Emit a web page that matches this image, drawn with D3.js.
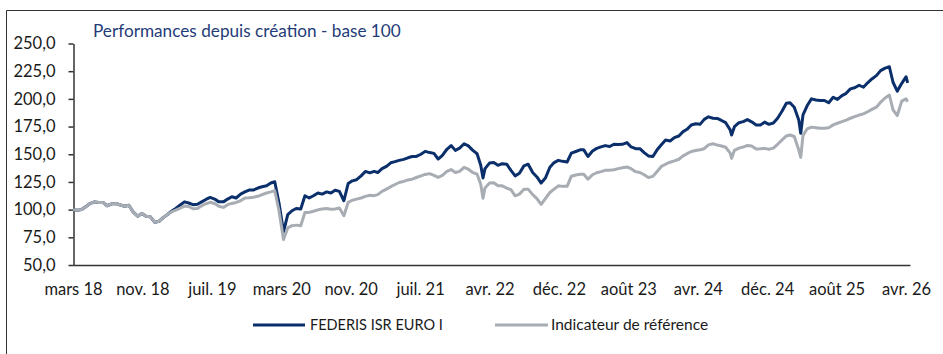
<!DOCTYPE html>
<html>
<head>
<meta charset="utf-8">
<script src="https://cdn.jsdelivr.net/npm/d3@7"></script>
<style>
  body { margin: 0; background: #ffffff; }
  svg { display: block; }
  text { font-family: Lato, "Open Sans", sans-serif; }
</style>
</head>
<body>
<svg id="chart" width="943" height="354"></svg>
<script>
// Observation dates (half-monthly, plus a few dates of sharp moves)
const dates = [
  "2018-03-17","2018-04-01","2018-04-16","2018-05-01","2018-05-16","2018-06-01","2018-06-16","2018-07-01","2018-07-16","2018-08-01","2018-08-16","2018-09-01","2018-09-16","2018-10-01","2018-10-16","2018-11-01","2018-11-16","2018-12-01","2018-12-16",
  "2019-01-01","2019-01-16","2019-02-01","2019-02-16","2019-03-01","2019-03-16","2019-04-01","2019-04-16","2019-05-01","2019-05-16","2019-06-01","2019-06-16","2019-07-01","2019-07-16","2019-08-01","2019-08-16","2019-09-01","2019-09-16","2019-10-01","2019-10-16","2019-11-01","2019-11-16","2019-12-01","2019-12-16",
  "2020-01-01","2020-01-16","2020-02-01","2020-02-16","2020-03-01","2020-03-16","2020-04-01","2020-04-16","2020-05-01","2020-05-16","2020-06-01","2020-06-16","2020-07-01","2020-07-16","2020-08-01","2020-08-16","2020-09-01","2020-09-16","2020-10-01","2020-10-16","2020-11-01","2020-11-16","2020-12-01","2020-12-16",
  "2021-01-01","2021-01-16","2021-02-01","2021-02-16","2021-03-01","2021-03-16","2021-04-01","2021-04-16","2021-05-01","2021-05-16","2021-06-01","2021-06-16","2021-07-01","2021-07-16","2021-08-01","2021-08-16","2021-09-01","2021-09-16","2021-10-01","2021-10-16","2021-11-01","2021-11-16","2021-12-01","2021-12-16",
  "2022-01-01","2022-01-16","2022-02-01","2022-02-16","2022-03-01","2022-03-09","2022-03-16","2022-04-01","2022-04-16","2022-05-01","2022-05-16","2022-06-01","2022-06-16","2022-07-01","2022-07-16","2022-08-01","2022-08-16","2022-09-01","2022-09-16","2022-10-01","2022-10-16","2022-11-01","2022-11-16","2022-12-01","2022-12-16",
  "2023-01-01","2023-01-16","2023-02-01","2023-02-16","2023-03-01","2023-03-16","2023-04-01","2023-04-16","2023-05-01","2023-05-16","2023-06-01","2023-06-16","2023-07-01","2023-07-16","2023-08-01","2023-08-16","2023-09-01","2023-09-16","2023-10-01","2023-10-16","2023-11-01","2023-11-16","2023-12-01","2023-12-16",
  "2024-01-01","2024-01-16","2024-02-01","2024-02-16","2024-03-01","2024-03-16","2024-04-01","2024-04-16","2024-05-01","2024-05-16","2024-06-01","2024-06-16","2024-07-01","2024-07-16","2024-08-01","2024-08-06","2024-08-16","2024-09-01","2024-09-16","2024-10-01","2024-10-16","2024-11-01","2024-11-16","2024-12-01","2024-12-16",
  "2025-01-01","2025-01-16","2025-02-01","2025-02-16","2025-03-01","2025-03-16","2025-04-01","2025-04-08","2025-04-16","2025-05-01","2025-05-16","2025-06-01","2025-06-16","2025-07-01","2025-07-16","2025-08-01","2025-08-16","2025-09-01","2025-09-16","2025-10-01","2025-10-16","2025-11-01","2025-11-16","2025-12-01","2025-12-16",
  "2026-01-01","2026-01-16","2026-02-01","2026-02-16","2026-03-01","2026-03-16","2026-04-01","2026-04-16","2026-04-22"
];

// FEDERIS ISR EURO I, base 100
const fundValues = [
  100,99.5,100,102.5,105.5,107,106.5,106.5,103.5,105.2,105.5,104.2,103,104,98,94,96.5,94,93.5,
  88.5,89.5,93,95.8,98.5,101,104.2,107,106,104.5,104.8,107,109.2,111,109.5,107,107,109.5,111.6,110.5,114,116,117.7,117.7,
  119.5,120.7,121.5,124,125.2,106,80,95.5,99,101,100.5,112.5,110.5,112.5,115,114,116,115,117.5,116.5,108,123.5,126,127,
  130.5,134.5,133.2,134.5,133.5,137,139.1,142.3,143.3,144.5,145.4,146.8,148,148,150,152.6,151.5,150.8,145.7,149,154.5,157.8,153.5,155.5,
  159.5,157.5,153.5,150.5,140,128.6,137,142,142.5,140,141.5,141,135.5,130.5,132.8,139.5,141,133.5,129.5,124,128.5,138.3,142.5,144.5,143.6,
  143,151,152.5,154,154,148,153,155.3,156.6,157.8,157,159,158.8,159,160.5,156.6,155,155,151.5,148.5,148,154,158.5,162.8,
  162,165,166.5,170.4,172.5,176.4,177.5,177,181.5,183.8,182.5,182.3,180.5,178.5,172,167.4,174.9,178.5,179.5,181.3,179.3,176.5,176.5,179,177,
  178.2,182.5,189,196,196.5,192.5,181,169,185.5,194,200,199,198.5,198.5,196.5,201.5,199.5,203,205,209,210,212.3,210.5,214.5,218,
  221,225.5,227.8,229,215,207,214,220,214.5
];

// Indicateur de référence, base 100
const benchValues = [
  100,99.5,100,102.5,105.5,107,106.5,106.5,103.5,105.2,105.5,104.2,103,104,98,94,96.5,94,93.5,
  88.5,89.5,93,95.8,98,99.5,101.3,103.2,102.8,100.8,101,103.5,105.3,106.6,105.5,103,102,104.5,105.6,106.5,108,110.5,110.8,111.2,
  112,113.5,115,116,117.1,99,73,83.5,85.5,86,85.5,97.5,97.5,98.5,99.8,100.5,101,100.3,100.5,101.5,94.5,106.5,108.5,109.5,
  110.5,112,113,112.6,113.5,116.5,118.5,120.7,122.7,124.5,125.5,126.8,127.5,129,130.5,131.8,132.5,131,129.2,131,134.5,136.2,133.5,134.5,
  138.2,136.5,133.5,132,123,110.2,119.5,124,124.3,121.5,121.5,119.5,118,112.5,114,118.5,118.5,113.5,110,104.8,110,115.5,118.5,121.5,121,
  121,130.2,131.3,132,132,127.5,131.5,133.3,134.3,135.5,135.5,136,137,137.8,138.5,137,134.3,133.5,131.5,129,130,134.5,139,141,
  142.8,144,145.5,148.5,150.5,152.5,153.3,154,155,158.5,159.5,158.3,157.5,156.3,151,146.3,153.5,155.5,156.5,158,157.5,154.8,155,155.3,154.5,
  155.5,159,163,166.5,167.4,166,153.8,147.2,167,173,174.5,174,173.4,173.4,174,176.5,178,179.4,180.9,182.5,184,185.4,186.5,188.4,190.5,
  192.5,197,200.8,203.5,190,185,198,200,197.5
];

// Axis ticks
const xTickDates = ["2018-03-17","2018-11-18","2019-07-22","2020-03-24","2020-11-25","2021-07-29","2022-04-01","2022-12-03","2023-08-06","2024-04-08","2024-12-10","2025-08-13","2026-04-16"];
const xTickLabels = ["mars 18","nov. 18","juil. 19","mars 20","nov. 20","juil. 21","avr. 22","déc. 22","août 23","avr. 24","déc. 24","août 25","avr. 26"];
const yTicks = [50, 75, 100, 125, 150, 175, 200, 225, 250];

const seriesNames = ["FEDERIS ISR EURO I", "Indicateur de référence"];
const seriesColors = ["#0b2f6b", "#a7adb3"];
const titleText = "Performances depuis création - base 100";

const parse = d3.utcParse("%Y-%m-%d");
const svg = d3.select("#chart");

// Outer frame
svg.append("path")
  .attr("d", "M6.5,354 V10.5 H943")
  .attr("fill", "none").attr("stroke", "#333").attr("stroke-width", 1);

const x = d3.scaleUtc()
  .domain([parse("2018-03-17"), parse("2026-04-30")])
  .range([73, 910]);
// keep avr. 26 at the right spot
x.range([73, 73 + (906 - 73) * (x.domain()[1] - x.domain()[0]) / (parse("2026-04-16") - parse("2018-03-17"))]);

const y = d3.scaleLinear().domain([50, 250]).range([265, 43.5]);

// Y axis
const yAxis = d3.axisLeft(y)
  .tickValues(yTicks)
  .tickSize(5)
  .tickSizeOuter(0)
  .tickFormat(d => d3.format(".1f")(d).replace(".", ","));
const gy = svg.append("g").attr("transform", "translate(73.5,0)").call(yAxis);
gy.select(".domain").attr("stroke", "#333").attr("stroke-width", 1.5);
gy.selectAll(".tick line").attr("stroke", "#333").attr("stroke-width", 1.5);
gy.selectAll(".tick text").attr("x", -18).attr("fill", "#1a1a1a").style("font-size", "16.5px").style("font-family", "Lato, sans-serif");

// X axis
const xAxis = d3.axisBottom(x)
  .tickValues(xTickDates.map(parse))
  .tickSize(0)
  .tickSizeOuter(0)
  .tickFormat((d, i) => xTickLabels[i]);
const gx = svg.append("g").attr("transform", "translate(0,265)").call(xAxis);
gx.select(".domain").attr("stroke", "#333").attr("stroke-width", 1.5);
gx.selectAll(".tick text").attr("y", 18).attr("fill", "#1a1a1a").style("font-size", "16.5px").style("font-family", "Lato, sans-serif");

// Title
svg.append("text")
  .attr("x", 93).attr("y", 37)
  .attr("fill", "#1f3c78")
  .style("font-size", "17.2px")
  .text(titleText);

// Lines
const line = vals => d3.line()
  .x((d, i) => x(parse(dates[i])))
  .y(d => y(d))(vals);

[fundValues, benchValues].forEach((vals, k) => {
  svg.append("path")
    .attr("d", line(vals))
    .attr("fill", "none")
    .attr("stroke", seriesColors[k])
    .attr("stroke-width", 3)
    .attr("stroke-linejoin", "round");
});

// Legend
const legendItems = [
  { x0: 253, x1: 305, tx: 310, size: "14.5px" },
  { x0: 495, x1: 548, tx: 551, size: "15.5px" }
];
legendItems.forEach((it, k) => {
  svg.append("line")
    .attr("x1", it.x0).attr("x2", it.x1)
    .attr("y1", 325).attr("y2", 325)
    .attr("stroke", seriesColors[k]).attr("stroke-width", 3);
  svg.append("text")
    .attr("x", it.tx).attr("y", 330)
    .attr("fill", "#1a1a1a")
    .style("font-size", it.size)
    .text(seriesNames[k]);
});
</script>
</body>
</html>
